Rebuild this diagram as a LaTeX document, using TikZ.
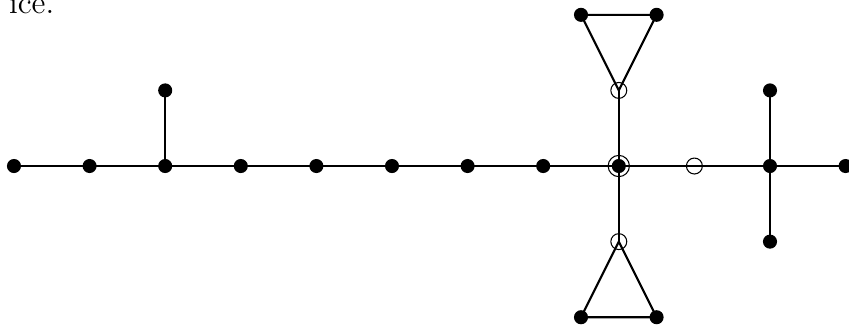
\documentclass[tikz,border=0pt]{standalone}
\usepackage{amsmath, amssymb}
\usetikzlibrary{calc}

\tikzset{
    dot/.style={circle, fill=black, inner sep=0pt, minimum size=5.3pt},
    hollow/.style={circle, draw, line width=0.4pt, inner sep=0pt, minimum size=6pt},
    ring/.style={circle, draw, line width=0.4pt, inner sep=0pt, minimum size=8pt},
    edge/.style={thick}
}

\begin{document}
\begin{tikzpicture}[x=1cm, y=1cm, font=\normalsize]

    % --- Frame ---
    \useasboundingbox (-0.185,-2.116) rectangle (11.045,2.196);
    \clip (-0.185,-2.116) rectangle (11.045,2.196);

    % --- Cut-off text from the page ---
    \node[anchor=base east, inner sep=0pt, font=\large] (txt) at (0.54,2.02) {ice.};

    % --- Main chain ---
    \foreach \i in {0,...,11} {
        \coordinate (a\i) at (\i,0);
    }

    % --- Branches ---
    \coordinate (leaf) at (2,1);   % pendant above a2
    \coordinate (up)   at (8,1);   % top of the cross
    \coordinate (dn)   at (8,-1);  % bottom of the cross
    \coordinate (rup)  at (10,1);
    \coordinate (rdn)  at (10,-1);

    % --- Triangles ---
    \coordinate (tl) at (7.5,2);
    \coordinate (tr) at (8.5,2);
    \coordinate (bl) at (7.5,-2);
    \coordinate (br) at (8.5,-2);

    % --- 1. Edges ---
    \draw[edge] (a0) -- (a11);
    \draw[edge] (a2) -- (leaf);
    \draw[edge] (up) -- (dn);
    \draw[edge] (rup) -- (rdn);
    \draw[edge] (up) -- (tl) -- (tr) -- cycle;
    \draw[edge] (dn) -- (bl) -- (br) -- cycle;

    % --- 2. Vertices ---
    \foreach \i in {0,...,8,10,11} {
        \node[dot] (v\i) at (a\i) {};
    }
    \node[dot] (vleaf) at (leaf) {};
    \node[dot] (vrup) at (rup) {};
    \node[dot] (vrdn) at (rdn) {};
    \node[dot] (vtl) at (tl) {};
    \node[dot] (vtr) at (tr) {};
    \node[dot] (vbl) at (bl) {};
    \node[dot] (vbr) at (br) {};

    % --- 3. Open circles ---
    \node[ring] (centre) at (a8) {};
    \node[hollow] (h9) at (a9) {};
    \node[hollow] (hup) at (up) {};
    \node[hollow] (hdn) at (dn) {};

\end{tikzpicture}
\end{document}
